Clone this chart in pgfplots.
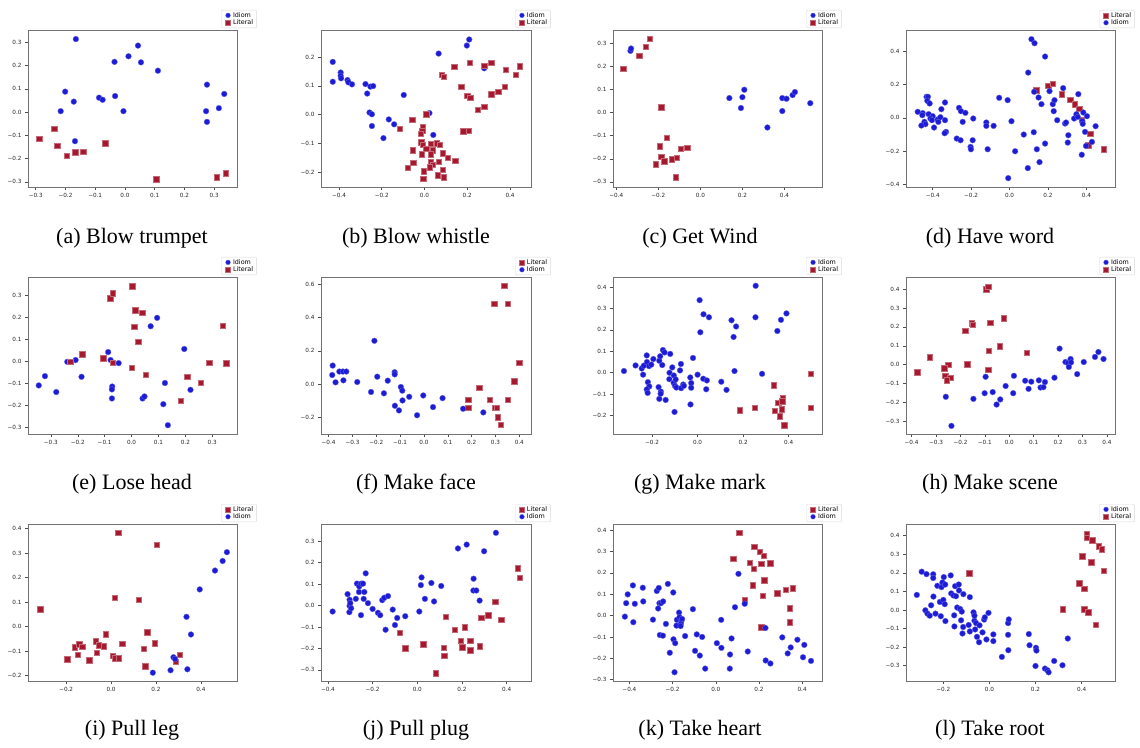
\documentclass[border=0pt]{standalone}
\usepackage{pgfplots}
\pgfplotsset{compat=1.18}
\usepackage{fontspec}
\setmainfont{Liberation Serif}
\newfontfamily\tf{DejaVu Sans}
\definecolor{idb}{RGB}{28,28,214}
\definecolor{litr}{RGB}{166,24,46}
\pgfplotsset{
  sub/.style={scale only axis, width=209pt, height=157pt, anchor=north west,
    axis line style={black!55, line width=0.6pt},
    tick align=outside, major tick length=3pt, tick pos=left,
    tick style={black!70, line width=0.5pt},
    ticklabel style={font=\tf\fontsize{5.7}{6.5}\selectfont, text=black!85},
    legend cell align=left,
    legend image code/.code={\path[draw=none] (-4pt,-2.5pt) rectangle (4pt,2.5pt); \draw[#1,draw=none] plot coordinates {(0pt,0pt)};},
    legend image post style={mark size=2.4pt},
    legend style={at={(0.925,1.012)}, anchor=south west, draw=black!15, line width=0.4pt, rounded corners=1pt,
      font=\tf\fontsize{6.4}{7.4}\selectfont, inner xsep=2.5pt, inner ysep=1pt, row sep=-1pt,
      nodes={inner sep=1pt, font=\tf\fontsize{6.4}{7.4}\selectfont}, /tikz/every even column/.append style={column sep=3.5pt}},
  },
  idiom/.style={only marks, mark=*, mark size=2.9pt, mark options={fill=idb, draw=white!35!idb, line width=0.3pt}},
  literal/.style={only marks, mark=square*, mark size=2.7pt, mark options={fill=litr, draw=white!35!litr, line width=0.3pt}},
}
\tikzset{subcap/.style={anchor=base, font=\fontsize{22}{26}\selectfont}}
\begin{document}
\begin{tikzpicture}
\path[use as bounding box] (0,0) rectangle (1140pt,-747pt);
% (a)
\begin{axis}[sub, at={(28pt,-30pt)}, xmin=-0.326, xmax=0.377, ymin=-0.322, ymax=0.353,
  xtick={-0.3,-0.2,-0.1,0,0.1,0.2,0.3}, xticklabels={−0.3,−0.2,−0.1,0.0,0.1,0.2,0.3},
  ytick={-0.3,-0.2,-0.1,0,0.1,0.2,0.3}, yticklabels={−0.3,−0.2,−0.1,0.0,0.1,0.2,0.3}]
\addplot[idiom] coordinates {(-0.165,0.314)(0.044,0.286)(0.012,0.240)(-0.035,0.216)(0.054,0.214)(0.111,0.178)(-0.201,0.088)(-0.172,0.045)(-0.216,0.004)(-0.087,0.062)(-0.075,0.053)(-0.033,0.069)(-0.005,0.004)(0.276,0.118)(0.334,0.078)(0.273,0.004)(0.316,0.017)(0.276,-0.042)(-0.168,-0.125)};
\addlegendentry{Idiom}
\addplot[literal] coordinates {(-0.288,-0.115)(-0.238,-0.072)(-0.228,-0.144)(-0.196,-0.186)(-0.167,-0.173)(-0.140,-0.171)(-0.066,-0.134)(0.105,-0.288)(0.308,-0.279)(0.339,-0.263)};
\addlegendentry{Literal}
\end{axis}
% (b)
\begin{axis}[sub, at={(321pt,-30pt)}, width=210pt, xmin=-0.484, xmax=0.498, ymin=-0.252, ymax=0.294,
  xtick={-0.4,-0.2,0,0.2,0.4}, xticklabels={−0.4,−0.2,0.0,0.2,0.4},
  ytick={-0.2,-0.1,0,0.1,0.2}, yticklabels={−0.2,−0.1,0.0,0.1,0.2}]
\addplot[idiom] coordinates {(-0.429,0.183)(-0.429,0.114)(-0.392,0.146)(-0.392,0.135)(-0.390,0.126)(-0.360,0.120)(-0.356,0.112)(-0.339,0.105)(-0.276,0.106)(-0.268,0.073)(-0.253,0.097)(-0.240,0.099)(-0.257,0.007)(-0.246,0.001)(-0.246,-0.040)(-0.167,-0.017)(-0.142,-0.034)(-0.192,-0.082)(-0.097,0.068)(0.066,0.212)(0.198,0.240)(0.209,0.261)(0.279,0.161)(0.023,0.005)(0.041,-0.071)};
\addlegendentry{Idiom}
\addplot[literal] coordinates {(0.139,0.167)(0.211,0.181)(0.279,0.171)(0.312,0.180)(0.379,0.156)(0.445,0.168)(0.426,0.138)(0.081,0.138)(0.090,0.132)(0.172,0.097)(0.200,0.066)(0.214,0.059)(0.312,0.071)(0.345,0.079)(0.374,0.097)(0.279,0.028)(0.248,0.017)(0.181,-0.058)(0.206,-0.055)(-0.115,-0.050)(-0.058,-0.017)(0.008,0.002)(-0.008,-0.042)(-0.011,-0.055)(-0.017,-0.066)(-0.016,-0.096)(-0.008,-0.105)(0.008,-0.119)(0.030,-0.101)(0.056,-0.099)(0.072,-0.105)(0.037,-0.124)(0.030,-0.138)(-0.012,-0.138)(-0.055,-0.124)(0.086,-0.134)(0.109,-0.150)(0.144,-0.160)(0.028,-0.166)(0.039,-0.175)(0.025,-0.183)(0.066,-0.163)(-0.053,-0.168)(-0.078,-0.184)(-0.003,-0.197)(-0.006,-0.223)(0.062,-0.211)(0.084,-0.192)(0.089,-0.218)};
\addlegendentry{Literal}
\end{axis}
% (c)
\begin{axis}[sub, at={(613pt,-30pt)}, xmin=-0.416, xmax=0.579, ymin=-0.322, ymax=0.356,
  xtick={-0.4,-0.2,0,0.2,0.4}, xticklabels={−0.4,−0.2,0.0,0.2,0.4},
  ytick={-0.3,-0.2,-0.1,0,0.1,0.2,0.3}, yticklabels={−0.3,−0.2,−0.1,0.0,0.1,0.2,0.3}]
\addplot[idiom] coordinates {(-0.333,0.266)(-0.330,0.276)(0.138,0.062)(0.200,0.066)(0.209,0.098)(0.193,0.019)(0.319,-0.065)(0.390,0.062)(0.410,0.059)(0.390,0.006)(0.439,0.075)(0.450,0.088)(0.523,0.040)};
\addlegendentry{Idiom}
\addplot[literal] coordinates {(-0.368,0.188)(-0.292,0.244)(-0.260,0.285)(-0.242,0.318)(-0.187,0.023)(-0.160,-0.110)(-0.193,-0.145)(-0.187,-0.191)(-0.173,-0.210)(-0.212,-0.223)(-0.138,-0.202)(-0.114,-0.194)(-0.094,-0.156)(-0.063,-0.152)(-0.119,-0.280)};
\addlegendentry{Literal}
\end{axis}
% (d)
\begin{axis}[sub, at={(906pt,-30pt)}, xmin=-0.539, xmax=0.549, ymin=-0.414, ymax=0.526,
  xtick={-0.4,-0.2,0,0.2,0.4}, xticklabels={−0.4,−0.2,0.0,0.2,0.4},
  ytick={-0.4,-0.2,0,0.2,0.4}, yticklabels={−0.4,−0.2,0.0,0.2,0.4}]
\addplot[literal] coordinates {(0.139,0.166)(0.201,0.192)(0.223,0.203)(0.272,0.142)(0.315,0.110)(0.339,0.082)(0.362,0.056)(0.376,-0.010)(0.419,-0.094)(0.410,-0.164)(0.490,-0.188)};
\addlegendentry{Literal}
\addplot[idiom] coordinates {(0.114,0.471)(0.130,0.447)(0.185,0.367)(0.097,0.271)(-0.478,0.036)(-0.452,0.028)(-0.454,0.016)(-0.432,0.126)(-0.425,0.126)(-0.428,0.102)(-0.416,0.086)(-0.421,0.022)(-0.400,0.010)(-0.412,-0.004)(-0.404,-0.014)(-0.443,-0.024)(-0.438,-0.038)(-0.459,-0.046)(-0.393,-0.058)(-0.374,-0.010)(-0.371,-0.024)(-0.360,0.004)(-0.355,0.052)(-0.336,0.092)(-0.336,-0.014)(-0.331,-0.084)(-0.338,-0.092)(-0.263,0.060)(-0.253,0.040)(-0.230,0.030)(-0.244,-0.024)(-0.275,-0.124)(-0.255,-0.134)(-0.189,-0.004)(-0.192,-0.134)(-0.203,-0.174)(-0.201,-0.188)(-0.121,-0.028)(-0.121,-0.048)(-0.083,-0.048)(-0.054,0.120)(-0.114,-0.188)(-0.010,0.106)(0.010,-0.020)(0.029,-0.200)(-0.007,-0.361)(0.074,-0.100)(0.095,-0.301)(0.126,-0.086)(0.128,0.156)(0.142,-0.188)(0.151,0.122)(0.156,-0.265)(0.166,0.082)(0.185,-0.154)(0.208,0.160)(0.225,0.082)(0.234,0.106)(0.230,0.040)(0.248,-0.014)(0.279,0.178)(0.289,-0.034)(0.294,-0.028)(0.306,-0.104)(0.303,-0.148)(0.336,-0.004)(0.348,0.022)(0.358,0.142)(0.355,0.006)(0.379,-0.020)(0.381,-0.036)(0.384,0.032)(0.393,-0.084)(0.403,0.010)(0.376,-0.221)(0.398,-0.168)(0.429,-0.144)(0.448,-0.050)};
\addlegendentry{Idiom}
\end{axis}
% (e)
\begin{axis}[sub, at={(28pt,-277pt)}, xmin=-0.385, xmax=0.392, ymin=-0.329, ymax=0.382,
  xtick={-0.3,-0.2,-0.1,0,0.1,0.2,0.3}, xticklabels={−0.3,−0.2,−0.1,0.0,0.1,0.2,0.3},
  ytick={-0.3,-0.2,-0.1,0,0.1,0.2,0.3}, yticklabels={−0.3,−0.2,−0.1,0.0,0.1,0.2,0.3}]
\addplot[idiom] coordinates {(-0.345,-0.109)(-0.322,-0.067)(-0.280,-0.139)(-0.239,-0.002)(-0.208,0.006)(-0.186,-0.070)(-0.087,0.042)(-0.078,0.006)(-0.048,-0.008)(-0.072,-0.114)(-0.073,-0.127)(-0.073,-0.168)(0.071,0.159)(0.095,0.197)(0.041,-0.168)(0.048,-0.159)(0.124,-0.098)(0.118,-0.194)(0.135,-0.289)(0.196,0.056)(0.219,-0.129)};
\addlegendentry{Idiom}
\addplot[literal] coordinates {(0.002,0.341)(-0.080,0.286)(-0.071,0.309)(0.014,0.232)(0.040,0.220)(0.009,0.158)(0.024,0.089)(-0.183,0.033)(-0.228,0.000)(-0.106,0.014)(-0.071,-0.005)(0.000,-0.029)(0.053,-0.061)(0.207,-0.068)(0.256,-0.097)(0.183,-0.179)(0.288,-0.006)(0.339,0.161)(0.351,-0.009)};
\addlegendentry{Literal}
\end{axis}
% (f)
\begin{axis}[sub, at={(321pt,-277pt)}, width=210pt, xmin=-0.432, xmax=0.449, ymin=-0.301, ymax=0.644,
  xtick={-0.4,-0.3,-0.2,-0.1,0,0.1,0.2,0.3,0.4}, xticklabels={−0.4,−0.3,−0.2,−0.1,0.0,0.1,0.2,0.3,0.4},
  ytick={-0.2,0,0.2,0.4,0.6}, yticklabels={−0.2,0.0,0.2,0.4,0.6}]
\addplot[literal] coordinates {(0.336,0.593)(0.294,0.482)(0.350,0.482)(0.399,0.129)(0.378,0.018)(0.232,-0.022)(0.186,-0.095)(0.186,-0.141)(0.276,-0.095)(0.299,-0.141)(0.305,-0.141)(0.350,-0.095)(0.309,-0.200)(0.322,-0.246)};
\addlegendentry{Literal}
\addplot[idiom] coordinates {(-0.383,0.111)(-0.385,0.054)(-0.371,0.010)(-0.355,0.075)(-0.340,0.075)(-0.326,0.075)(-0.338,0.022)(-0.280,0.012)(-0.208,0.260)(-0.196,0.044)(-0.222,-0.048)(-0.168,-0.056)(-0.152,0.020)(-0.123,0.071)(-0.123,0.058)(-0.097,-0.018)(-0.091,-0.040)(-0.090,-0.099)(-0.062,-0.077)(-0.122,-0.131)(-0.105,-0.159)(-0.029,-0.188)(-0.003,-0.069)(0.038,-0.139)(0.078,-0.085)(0.164,-0.149)(0.249,-0.171)};
\addlegendentry{Idiom}
\end{axis}
% (g)
\begin{axis}[sub, at={(613pt,-277pt)}, xmin=-0.371, xmax=0.546, ymin=-0.286, ymax=0.447,
  xtick={-0.2,0,0.2,0.4}, xticklabels={−0.2,0.0,0.2,0.4},
  ytick={-0.2,-0.1,0,0.1,0.2,0.3,0.4}, yticklabels={−0.2,−0.1,0.0,0.1,0.2,0.3,0.4}]
\addplot[idiom] coordinates {(-0.323,0.008)(-0.272,0.034)(-0.245,0.020)(-0.236,0.033)(-0.239,-0.009)(-0.223,0.081)(-0.222,0.050)(-0.213,0.031)(-0.203,0.038)(-0.194,0.064)(-0.218,-0.044)(-0.212,-0.064)(-0.223,-0.078)(-0.219,-0.094)(-0.168,0.056)(-0.164,0.077)(-0.152,0.106)(-0.145,0.095)(-0.155,0.036)(-0.171,-0.067)(-0.161,-0.088)(-0.162,-0.098)(-0.168,-0.122)(-0.140,-0.127)(-0.120,0.088)(-0.111,0.025)(-0.123,0.000)(-0.124,-0.030)(-0.104,-0.013)(-0.105,-0.047)(-0.096,-0.031)(-0.099,-0.061)(-0.093,-0.069)(-0.077,0.011)(-0.073,0.041)(-0.072,-0.072)(-0.063,-0.055)(-0.060,-0.061)(-0.101,-0.183)(-0.032,-0.022)(-0.028,-0.048)(-0.028,-0.070)(-0.020,0.069)(-0.031,-0.148)(0.000,-0.009)(0.009,0.339)(0.012,0.189)(0.026,0.273)(0.025,-0.028)(0.041,-0.036)(0.050,0.259)(0.038,-0.077)(0.104,-0.042)(0.127,-0.080)(0.149,0.245)(0.169,0.216)(0.158,0.167)(0.162,0.008)(0.255,0.406)(0.254,0.259)(0.283,-0.005)(0.350,0.195)(0.366,0.247)(0.390,0.277)};
\addlegendentry{Idiom}
\addplot[literal] coordinates {(0.185,-0.175)(0.251,-0.163)(0.334,-0.058)(0.337,-0.178)(0.353,-0.139)(0.372,-0.119)(0.371,-0.133)(0.359,-0.203)(0.368,-0.170)(0.380,-0.244)(0.496,-0.005)(0.496,-0.163)};
\addlegendentry{Literal}
\end{axis}
% (h)
\begin{axis}[sub, at={(906pt,-277pt)}, xmin=-0.423, xmax=0.433, ymin=-0.367, ymax=0.464,
  xtick={-0.4,-0.3,-0.2,-0.1,0,0.1,0.2,0.3,0.4}, xticklabels={−0.4,−0.3,−0.2,−0.1,0.0,0.1,0.2,0.3,0.4},
  ytick={-0.3,-0.2,-0.1,0,0.1,0.2,0.3,0.4}, yticklabels={−0.3,−0.2,−0.1,0.0,0.1,0.2,0.3,0.4}]
\addplot[idiom] coordinates {(-0.260,-0.170)(-0.237,-0.324)(-0.147,-0.181)(-0.097,-0.064)(-0.101,-0.151)(-0.068,-0.145)(-0.052,-0.211)(-0.037,-0.184)(-0.015,-0.113)(0.019,-0.059)(0.016,-0.151)(0.065,-0.085)(0.090,-0.090)(0.079,-0.128)(0.121,-0.083)(0.128,-0.121)(0.140,-0.119)(0.146,-0.092)(0.185,-0.069)(0.206,0.085)(0.230,0.014)(0.240,0.009)(0.251,0.030)(0.253,0.012)(0.244,-0.012)(0.278,-0.050)(0.305,0.014)(0.351,0.041)(0.365,0.067)(0.386,0.030)};
\addlegendentry{Idiom}
\addplot[literal] coordinates {(-0.377,-0.039)(-0.326,0.039)(-0.251,0.000)(-0.266,-0.018)(-0.263,-0.059)(-0.243,-0.069)(-0.256,-0.082)(-0.181,0.179)(-0.155,0.220)(-0.149,0.211)(-0.172,0.002)(-0.094,0.399)(-0.086,0.413)(-0.078,0.223)(-0.084,0.073)(-0.086,-0.027)(-0.023,0.246)(-0.040,0.098)(0.071,0.064)};
\addlegendentry{Literal}
\end{axis}
% (i)
\begin{axis}[sub, at={(28pt,-524pt)}, xmin=-0.370, xmax=0.561, ymin=-0.222, ymax=0.419,
  xtick={-0.2,0,0.2,0.4}, xticklabels={−0.2,0.0,0.2,0.4},
  ytick={-0.2,-0.1,0,0.1,0.2,0.3,0.4}, yticklabels={−0.2,−0.1,0.0,0.1,0.2,0.3,0.4}]
\addplot[literal] coordinates {(-0.316,0.071)(0.031,0.384)(0.203,0.334)(0.015,0.119)(0.124,0.111)(-0.195,-0.132)(-0.161,-0.084)(-0.143,-0.071)(-0.148,-0.115)(-0.129,-0.081)(-0.098,-0.137)(-0.068,-0.060)(-0.064,-0.105)(-0.055,-0.075)(-0.033,-0.079)(-0.025,-0.030)(0.007,-0.118)(0.015,-0.129)(0.033,-0.129)(0.049,-0.070)(0.145,-0.090)(0.160,-0.022)(0.152,-0.162)(0.195,-0.068)(0.306,-0.114)(0.288,-0.144)};
\addlegendentry{Literal}
\addplot[idiom] coordinates {(0.186,-0.188)(0.265,-0.178)(0.278,-0.125)(0.285,-0.132)(0.340,-0.174)(0.336,0.040)(0.356,-0.032)(0.395,0.152)(0.463,0.229)(0.497,0.268)(0.516,0.304)};
\addlegendentry{Idiom}
\end{axis}
% (j)
\begin{axis}[sub, at={(321pt,-524pt)}, width=210pt, xmin=-0.431, xmax=0.509, ymin=-0.352, ymax=0.380,
  xtick={-0.4,-0.2,0,0.2,0.4}, xticklabels={−0.4,−0.2,0.0,0.2,0.4},
  ytick={-0.3,-0.2,-0.1,0,0.1,0.2,0.3}, yticklabels={−0.3,−0.2,−0.1,0.0,0.1,0.2,0.3}]
\addplot[literal] coordinates {(-0.079,-0.127)(-0.054,-0.198)(0.027,-0.180)(0.127,-0.053)(0.119,-0.197)(0.121,-0.234)(0.082,-0.316)(0.167,-0.113)(0.212,-0.100)(0.194,-0.164)(0.200,-0.194)(0.237,-0.164)(0.236,-0.209)(0.278,-0.189)(0.285,-0.056)(0.318,-0.045)(0.348,0.019)(0.376,-0.066)(0.449,0.175)(0.457,0.130)};
\addlegendentry{Literal}
\addplot[idiom] coordinates {(-0.379,-0.028)(-0.312,0.053)(-0.303,0.027)(-0.303,-0.002)(-0.304,-0.031)(-0.296,-0.013)(-0.300,0.011)(-0.275,0.031)(-0.270,0.102)(-0.260,0.089)(-0.261,0.063)(-0.251,0.102)(-0.243,0.102)(-0.237,0.063)(-0.231,0.150)(-0.240,0.031)(-0.252,-0.045)(-0.221,0.011)(-0.200,-0.016)(-0.176,-0.034)(-0.166,-0.045)(-0.157,0.025)(-0.148,0.036)(-0.131,0.044)(-0.142,-0.113)(-0.110,-0.019)(-0.100,-0.091)(-0.090,-0.058)(-0.054,-0.050)(0.009,-0.028)(0.016,0.095)(0.019,0.131)(0.034,0.031)(0.063,0.105)(0.075,0.019)(0.107,0.091)(0.182,0.266)(0.221,0.284)(0.252,0.125)(0.251,0.070)(0.264,0.070)(0.279,0.023)(0.299,0.253)(0.352,0.339)};
\addlegendentry{Idiom}
\end{axis}
% (k)
\begin{axis}[sub, at={(613pt,-524pt)}, xmin=-0.476, xmax=0.492, ymin=-0.306, ymax=0.428,
  xtick={-0.4,-0.2,0,0.2,0.4}, xticklabels={−0.4,−0.2,0.0,0.2,0.4},
  ytick={-0.3,-0.2,-0.1,0,0.1,0.2,0.3,0.4}, yticklabels={−0.3,−0.2,−0.1,0.0,0.1,0.2,0.3,0.4}]
\addplot[literal] coordinates {(0.109,0.388)(0.080,0.267)(0.177,0.322)(0.202,0.300)(0.222,0.279)(0.157,0.248)(0.174,0.220)(0.211,0.242)(0.251,0.245)(0.224,0.166)(0.170,0.143)(0.216,0.093)(0.284,0.105)(0.324,0.122)(0.356,0.129)(0.341,0.035)(0.342,-0.031)(0.134,0.075)(0.210,-0.055)};
\addlegendentry{Literal}
\addplot[idiom] coordinates {(-0.421,-0.005)(-0.415,0.058)(-0.408,0.099)(-0.384,0.141)(-0.382,-0.031)(-0.375,0.055)(-0.338,0.130)(-0.336,0.066)(-0.291,-0.019)(-0.273,0.115)(-0.264,0.129)(-0.261,0.058)(-0.254,0.058)(-0.267,0.033)(-0.244,0.066)(-0.231,-0.039)(-0.259,-0.091)(-0.245,-0.094)(-0.222,0.148)(-0.213,-0.174)(-0.197,0.108)(-0.196,-0.111)(-0.188,-0.129)(-0.191,-0.265)(-0.180,-0.020)(-0.182,-0.047)(-0.170,0.014)(-0.168,-0.008)(-0.160,-0.027)(-0.156,-0.016)(-0.162,-0.039)(-0.163,-0.049)(-0.142,-0.096)(-0.106,0.030)(-0.096,-0.165)(-0.088,-0.088)(-0.074,-0.187)(-0.063,-0.100)(-0.049,-0.248)(0.005,-0.129)(0.025,-0.020)(0.026,-0.151)(0.066,-0.182)(0.065,-0.248)(0.073,-0.107)(0.089,0.039)(0.105,0.195)(0.134,0.055)(0.148,-0.168)(0.230,-0.058)(0.231,-0.210)(0.253,-0.224)(0.308,-0.102)(0.333,-0.177)(0.347,-0.149)(0.378,-0.113)(0.410,-0.137)(0.404,-0.195)(0.441,-0.212)};
\addlegendentry{Idiom}
\end{axis}
% (l)
\begin{axis}[sub, at={(906pt,-524pt)}, xmin=-0.362, xmax=0.545, ymin=-0.383, ymax=0.463,
  xtick={-0.2,0,0.2,0.4}, xticklabels={−0.2,0.0,0.2,0.4},
  ytick={-0.3,-0.2,-0.1,0,0.1,0.2,0.3,0.4}, yticklabels={−0.3,−0.2,−0.1,0.0,0.1,0.2,0.3,0.4}]
\addplot[idiom] coordinates {(-0.315,0.081)(-0.294,0.206)(-0.273,0.193)(-0.278,-0.002)(-0.269,-0.020)(-0.259,-0.031)(-0.253,0.025)(-0.244,0.192)(-0.244,0.172)(-0.243,0.072)(-0.234,-0.020)(-0.226,0.130)(-0.215,0.043)(-0.211,-0.034)(-0.208,0.123)(-0.204,0.148)(-0.200,0.054)(-0.198,0.177)(-0.194,0.031)(-0.192,0.137)(-0.191,-0.060)(-0.168,0.186)(-0.166,0.089)(-0.156,0.078)(-0.149,0.128)(-0.145,0.074)(-0.140,0.013)(-0.133,0.137)(-0.132,0.105)(-0.127,0.005)(-0.153,-0.029)(-0.152,-0.089)(-0.123,-0.056)(-0.120,-0.009)(-0.117,-0.127)(-0.113,0.085)(-0.114,-0.092)(-0.090,-0.081)(-0.085,0.069)(-0.085,-0.116)(-0.069,-0.013)(-0.065,-0.058)(-0.062,-0.105)(-0.065,-0.031)(-0.058,-0.071)(-0.054,-0.145)(-0.045,-0.174)(-0.043,-0.083)(-0.030,-0.121)(-0.023,-0.052)(-0.020,-0.040)(-0.013,-0.159)(-0.004,-0.016)(0.017,-0.132)(0.017,-0.168)(0.054,-0.253)(0.081,-0.071)(0.084,-0.051)(0.081,-0.134)(0.082,-0.217)(0.171,-0.130)(0.174,-0.190)(0.202,-0.204)(0.204,-0.219)(0.200,-0.302)(0.241,-0.316)(0.252,-0.325)(0.257,-0.336)(0.281,-0.275)(0.317,-0.298)(0.340,-0.154)};
\addlegendentry{Idiom}
\addplot[literal] coordinates {(-0.088,0.199)(0.318,0.004)(0.390,0.145)(0.411,0.116)(0.411,0.005)(0.429,-0.013)(0.460,-0.078)(0.403,0.289)(0.421,0.410)(0.421,0.391)(0.445,0.376)(0.441,0.257)(0.474,0.344)(0.486,0.327)(0.496,0.213)};
\addlegendentry{Literal}
\end{axis}
\node[subcap] at (132pt,-243pt) {(a) Blow trumpet};
\node[subcap] at (416pt,-243pt) {(b) Blow whistle};
\node[subcap] at (700pt,-243pt) {(c) Get Wind};
\node[subcap] at (990pt,-243pt) {(d) Have word};
\node[subcap] at (132pt,-489pt) {(e) Lose head};
\node[subcap] at (416pt,-489pt) {(f) Make face};
\node[subcap] at (700pt,-489pt) {(g) Make mark};
\node[subcap] at (990pt,-489pt) {(h) Make scene};
\node[subcap] at (132pt,-735pt) {(i) Pull leg};
\node[subcap] at (416pt,-735pt) {(j) Pull plug};
\node[subcap] at (700pt,-735pt) {(k) Take heart};
\node[subcap] at (990pt,-735pt) {(l) Take root};
\end{tikzpicture}
\end{document}
